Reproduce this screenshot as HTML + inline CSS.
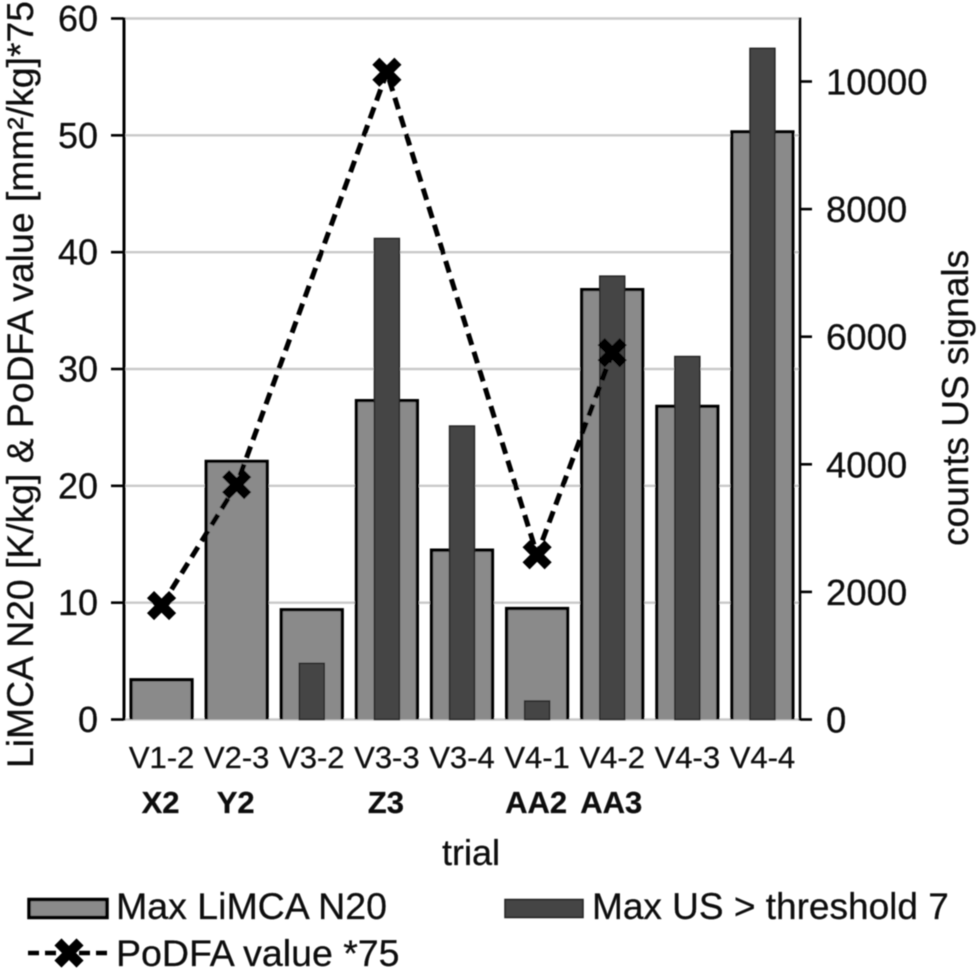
<!DOCTYPE html>
<html lang="en">
<head>
<meta charset="utf-8">
<title>LiMCA N20, PoDFA and US signal counts per trial</title>
<style>
html,body{margin:0;padding:0;background:#fff;}
svg{display:block;}
text{font-family:"Liberation Sans",sans-serif;fill:#0a0a0a;stroke:#0a0a0a;stroke-width:0.25px;}
</style>
</head>
<body>
<svg id="chart" width="980" height="972" viewBox="0 0 980 972" xmlns="http://www.w3.org/2000/svg">
  <defs>
    <filter id="soft" x="-5%" y="-5%" width="110%" height="110%"><feGaussianBlur stdDeviation="0.65"/></filter>
  </defs>
  <g id="root" filter="url(#soft)">
    <g id="grid"></g>
    <g id="bars-limca"></g>
    <g id="bars-us"></g>
    <g id="axes"></g>
    <g id="podfa"></g>
    <g id="labels"></g>

    <text transform="translate(33,768) rotate(-90)" font-size="37.3">LiMCA N20 [K/kg] &amp; PoDFA value [mm²/kg]*75</text>
    <text transform="translate(968,546) rotate(-90)" font-size="37">counts US signals</text>
    <text x="471" y="865" text-anchor="middle" font-size="36">trial</text>

    <g>
      <rect x="29" y="899.5" width="78" height="18" fill="#8a8a8a" stroke="#000" stroke-width="3.5"/>
      <text x="116" y="919" font-size="37.5">Max LiMCA N20</text>
      <rect x="505" y="899.5" width="78" height="18" fill="#444" stroke="#222" stroke-width="1.5"/>
      <text x="592" y="919" font-size="37">Max US &gt; threshold 7</text>
      <line x1="28" y1="953" x2="108" y2="953" stroke="#000" stroke-width="4.5" stroke-dasharray="11 6"/>
      <path d="M61.5 945.5L76.5 960.5M76.5 945.5L61.5 960.5" stroke="#000" stroke-width="10" stroke-linecap="square"/>
      <text x="116" y="966" font-size="37.5">PoDFA value *75</text>
    </g>
  </g>
</svg>
<script>
const categories = ["V1-2","V2-3","V3-2","V3-3","V3-4","V4-1","V4-2","V4-3","V4-4"];
const sampleTags = ["X2","Y2","","Z3","","AA2","AA3","",""];
const limcaValues = [3.4,22.1,9.4,27.3,14.5,9.5,36.8,26.8,50.3];
const usValues = [0,0,880,7540,4600,290,6950,5690,10520];
const podfaValues = [9.75,20.1,null,55.4,null,14.1,31.4,null,null];
const leftTicks = [0,10,20,30,40,50,60];
const rightTicks = [0,2000,4000,6000,8000,10000];

const NS = "http://www.w3.org/2000/svg";
const plotLeft = 124, plotRight = 800, plotTop = 18.5, plotBottom = 719.5;
const leftMax = 60, rightPerUnit = 0.0638;
const bandWidth = (plotRight - plotLeft) / categories.length;

function xCenter(i){ return plotLeft + bandWidth * (i + 0.5); }
function yLeft(v){ return plotBottom - (v / leftMax) * (plotBottom - plotTop); }
function yRight(v){ return plotBottom - v * rightPerUnit; }
function make(parentId, tag, attrs, text){
  const el = document.createElementNS(NS, tag);
  for (const k in attrs) el.setAttribute(k, attrs[k]);
  if (text !== undefined) el.textContent = text;
  document.getElementById(parentId).appendChild(el);
  return el;
}

leftTicks.forEach(function(t){
  const y = yLeft(t);
  const grid = make("grid","line",{x1:plotLeft,x2:plotRight,y1:y,y2:y,stroke:"#c9c9c9","stroke-width":2.4});
  
  
  const tick = make("axes","line",{x1:plotLeft-13,x2:plotLeft,y1:y,y2:y,stroke:"#000","stroke-width":2.6});
  
  
  const label = make("labels","text",{x:plotLeft-26,y:y+12.5,"text-anchor":"end","font-size":36},String(t));
  
  
});

rightTicks.forEach(function(t){
  const y = yRight(t);
  const tick = make("axes","line",{x1:plotRight,x2:plotRight+12,y1:y,y2:y,stroke:"#000","stroke-width":2.6});
  
  
  const label = make("labels","text",{x:plotRight+26,y:y+13,"font-size":36.5},String(t));
  
  
});

const leftAxis = make("axes","line",{x1:plotLeft,x2:plotLeft,y1:plotTop-1,y2:plotBottom+1,stroke:"#000","stroke-width":3});


const rightAxis = make("axes","line",{x1:plotRight,x2:plotRight,y1:plotTop-1,y2:plotBottom+1,stroke:"#000","stroke-width":2.6});



categories.forEach(function(c,i){
  const cx = xCenter(i);
  const w = 61, usW = 25;

  const top = yLeft(limcaValues[i]);
  const bar = make("bars-limca","path",{d:"M"+(cx-w/2)+" "+plotBottom+"V"+top+"H"+(cx+w/2)+"V"+plotBottom,fill:"#8a8a8a",stroke:"#000","stroke-width":3.2});
  
  

  if (usValues[i] > 0) {
    const uTop = yRight(usValues[i]);
    const uBar = make("bars-us","rect",{x:cx-usW/2,y:uTop,width:usW,height:plotBottom-uTop,fill:"#444",stroke:"#222","stroke-width":1.4});
    
    
  }

  const catLabel = make("labels","text",{x:cx,y:768,"text-anchor":"middle","font-size":31},c);
  
  

  if (sampleTags[i]) {
    const tag = make("labels","text",{x:cx-1,y:813,"text-anchor":"middle","font-size":31,"font-weight":"bold"},sampleTags[i]);
    
    
  }
});

const podfaPoints = [];
podfaValues.forEach(function(v,i){
  if (v !== null) podfaPoints.push([xCenter(i), yLeft(v)]);
});
const podfaLine = make("podfa","polyline",{points:podfaPoints.map(function(p){return p.join(",");}).join(" "),fill:"none",stroke:"#000","stroke-width":5,"stroke-dasharray":"12 7"});


podfaPoints.forEach(function(p){
  const s = 7.5;
  const marker = make("podfa","path",{d:"M"+(p[0]-s)+" "+(p[1]-s)+"L"+(p[0]+s)+" "+(p[1]+s)+"M"+(p[0]+s)+" "+(p[1]-s)+"L"+(p[0]-s)+" "+(p[1]+s),stroke:"#000","stroke-width":10,"stroke-linecap":"square",fill:"none"});
  
  
});
</script>
</body>
</html>
